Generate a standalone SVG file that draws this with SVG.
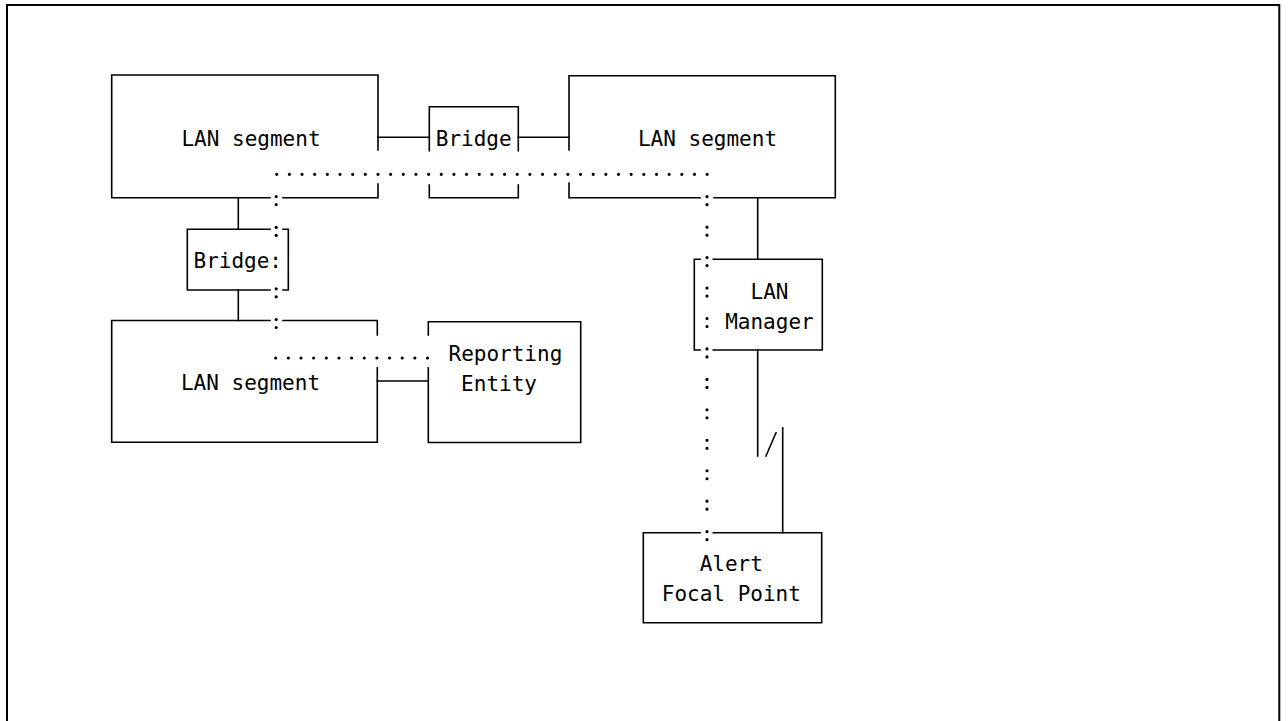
<svg xmlns="http://www.w3.org/2000/svg" width="1288" height="721" viewBox="0 0 1288 721">
<style>
.ln{fill:none;stroke:#000;stroke-width:1.6;stroke-linecap:square}
.dot{fill:none;stroke:#000;stroke-width:3.2;stroke-linecap:round}
.t{font-family:"DejaVu Sans Mono","Liberation Mono",monospace;font-size:21px;fill:#000}
</style>
<rect width="1288" height="721" fill="#fff"/>
<rect x="7" y="5" width="1272.3" height="730" fill="none" stroke="#000" stroke-width="2"/>
<g id="lan-segment-1">
<path class="ln" d="M378,150 V75 H111.7 V197.7 H270 M283,197.7 H378 V184"/>
<text class="t" x="251" y="146" text-anchor="middle">LAN segment</text>
</g>
<g id="bridge-1">
<path class="ln" d="M429.3,150.7 V106.7 H518.3 V150.7 M429.3,185 V197.7 H518.3 V185"/>
<text class="t" x="473.7" y="146" text-anchor="middle">Bridge</text>
</g>
<g id="lan-segment-2">
<path class="ln" d="M569,150 V75.7 H835.3 V197.7 H714 M700,197.7 H569 V183"/>
<text class="t" x="707.5" y="146" text-anchor="middle">LAN segment</text>
</g>
<g id="bridge-2">
<path class="ln" d="M270,229.3 H187.3 V290 H270 M283,229.3 H288.3 V290 H283"/>
<text class="t" x="193.5" y="268.3">Bridge:</text>
</g>
<g id="lan-segment-3">
<path class="ln" d="M270,320.5 H111.7 V442.2 H377.3 V367.7 M377.3,335 V320.5 H283"/>
<text class="t" x="250.5" y="389.6" text-anchor="middle">LAN segment</text>
</g>
<g id="reporting-entity">
<path class="ln" d="M428.3,335 V321.7 H580.7 V442.5 H428.3 V367.7"/>
<text class="t" x="448.5" y="361">Reporting</text>
<text class="t" x="461.1" y="390.5">Entity</text>
</g>
<g id="lan-manager">
<path class="ln" d="M700,259.3 H694.3 V350 H700 M713.3,259.3 H822.3 V350 H713.3"/>
<text class="t" x="750.5" y="299.3">LAN</text>
<text class="t" x="725.2" y="329.3">Manager</text>
</g>
<g id="alert-focal-point">
<path class="ln" d="M700,532.7 H643.3 V622.7 H821.7 V532.7 H713.3"/>
<text class="t" x="699.7" y="571">Alert</text>
<text class="t" x="661.8" y="600.7">Focal Point</text>
</g>
<g id="connectors">
<path class="ln" d="M378,137.3 H429.3 M518.3,137.3 H569"/>
<path class="ln" d="M238.3,197.7 V229.3 M238.3,290 V320.5"/>
<path class="ln" d="M377.3,381 H428.3"/>
<path class="ln" d="M757.7,197.7 V259.3 M757.7,350 V456 M782.7,427.7 V532.7"/>
<path class="ln" d="M766,456 L776,432.7"/>
<path class="dot" d="M276.7,174.3 H708" stroke-dasharray="0 12.66"/>
<path class="dot" d="M275.7,358 H429" stroke-dasharray="0 12.65"/>
<path class="dot" d="M707,196.7 V540" stroke-dasharray="0 8 0 22.45"/>
<path class="dot" d="M276.2,196.7 V237" stroke-dasharray="0 8 0 22.7"/>
<path class="dot" d="M276.2,288.8 V328" stroke-dasharray="0 8 0 22.7"/>
</g>
</svg>
